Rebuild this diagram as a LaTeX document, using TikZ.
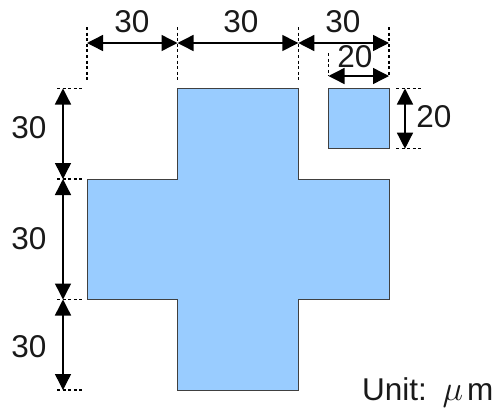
\documentclass[tikz,border=0pt]{standalone}
\usepackage{fontspec}
\usepackage{graphicx}
\setmainfont{Liberation Sans}
\usetikzlibrary{arrows.meta}
\tikzset{
  shapefill/.style={fill=shapeblue,draw=black!75,line width=1pt,line join=miter},
  dim/.style={draw=black,line width=1.4pt,{Triangle[length=16pt,width=16pt]}-{Triangle[length=16pt,width=16pt]}},
  guide/.style={draw=black,line width=1.2pt,dash pattern=on 3pt off 2.6pt},
  lab/.style={font=\fontsize{31.5pt}{34pt}\selectfont,inner sep=0pt,text=black!90}
}
\definecolor{shapeblue}{HTML}{99CCFF}
\begin{document}
\begin{tikzpicture}[x=1pt,y=-1pt]
\useasboundingbox (0,0) rectangle (493,408);
% cross and small square
\draw[shapefill] (177.5,88.5) -- (298.3,88.5) -- (298.3,179) -- (389,179) -- (389,299.5) -- (298.3,299.5) -- (298.3,390) -- (177.5,390) -- (177.5,299.5) -- (87,299.5) -- (87,179) -- (177.5,179) -- cycle;
\draw[shapefill] (328.5,88.5) rectangle (389,148.7);
% guide ends
\foreach \n/\x/\y in {ta/87/27,tb/177.5/27,tc/298.3/27,td/389/27,te/328.5/53,
                      tab/87/81,tbb/177.5/81,tcb/298.3/81,tdb/389/76,teb/328.5/76,
                      la/57/88.5,lb/57/179,lc/57/299.5,ld/57/390,
                      lae/82/88.5,lbe/82/179,lce/82/299.5,lde/82/390,
                      ra/396/88.5,rb/396/148.7,rae/421/88.5,rbe/421/148.7}
  \coordinate (\n) at (\x,\y);
\foreach \a/\b in {ta/tab,tb/tbb,tc/tcb,td/tdb,te/teb,la/lae,lb/lbe,lc/lce,ld/lde,ra/rae,rb/rbe}
  \draw[guide] (\a) -- (\b);
% dimension arrow ends
\foreach \n/\x/\y in {h1/87/43,h2/177.5/43,h3/298.3/43,h4/389/43,h5/328.5/76,h6/389/76,
                      v1/63/88.5,v2/63/179,v3/63/299.5,v4/63/390,w1/405/88.5,w2/405/148.7}
  \coordinate (\n) at (\x,\y);
\foreach \a/\b in {h1/h2,h2/h3,h3/h4,h5/h6,v1/v2,v2/v3,v3/v4,w1/w2}
  \draw[dim] (\a) -- (\b);
% labels
\node[lab] (t1) at (132,22) {30};
\node[lab] (t2) at (241,22) {30};
\node[lab] (t3) at (343,22) {30};
\node[lab] (t4) at (355,57) {20};
\node[lab] (t5) at (434,117) {20};
\node[lab] (l1) at (29,128) {30};
\node[lab] (l2) at (29,239) {30};
\node[lab] (l3) at (29,347) {30};
\node[lab,anchor=base west] (u) at (362,400) {Unit:\hspace{0.5em}\scalebox{1.4}{$\mu$}\hspace{0.12em}m};
\end{tikzpicture}
\end{document}
